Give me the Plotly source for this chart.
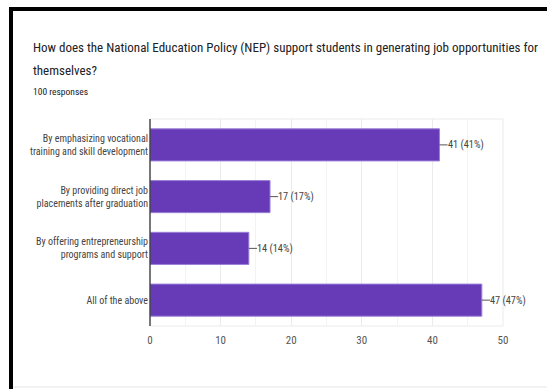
import plotly.graph_objects as go

# Survey data
categories = [
    "By emphasizing vocational<br>training and skill development",
    "By providing direct job<br>placements after graduation",
    "By offering entrepreneurship<br>programs and support",
    "All of the above",
]
counts = [41, 17, 14, 47]
total_responses = 100
x_ticks = [0, 10, 20, 30, 40, 50]

title_line1 = "How does the National Education Policy (NEP) support students in generating job opportunities for"
title_line2 = "themselves?"
subtitle = f"{total_responses} responses"

W, H = 547, 389
M_L, M_R, M_T, M_B = 150, 44, 119, 63
PW, PH = W - M_L - M_R, H - M_T - M_B

FONT = "Liberation Sans Narrow, Roboto Condensed, Roboto, Arial, sans-serif"
BAR = "#673ab7"


def px(x):
    return (x - M_L) / PW


def py(y):
    return (H - M_B - y) / PH


labels = [f"{c} ({round(100 * c / total_responses)}%)" for c in counts]

fig = go.Figure(
    go.Bar(
        y=categories,
        x=counts,
        orientation="h",
        marker=dict(color=BAR, line=dict(color="#9a7fd6", width=1)),
        width=0.62,
        hoverinfo="skip",
    )
)

shapes = []
annotations = []

# Leader ticks and value labels at bar ends
for cat, val, lab in zip(categories, counts, labels):
    shapes.append(dict(type="line", xref="x", yref="y", x0=val, x1=val + 1.15,
                       y0=cat, y1=cat, line=dict(color="#555555", width=1)))
    annotations.append(dict(x=val + 1.15, y=cat, xref="x", yref="y", text=lab,
                            showarrow=False, xanchor="left", yanchor="middle",
                            xshift=-2,
                            font=dict(family=FONT, size=10.3, color="#444444")))

# Light frame around the plotting area
shapes.append(dict(type="rect", xref="paper", yref="paper", x0=0, x1=1, y0=0, y1=1,
                   line=dict(color="#ebebeb", width=1), layer="below"))
# Dark left axis
shapes.append(dict(type="line", xref="paper", yref="paper", x0=0, x1=0, y0=0, y1=1,
                   line=dict(color="#333333", width=1.3)))

# Black card border along top and left edges
shapes.append(dict(type="rect", xref="paper", yref="paper", x0=px(9), x1=px(13),
                   y0=py(H + 2), y1=py(7), fillcolor="#000000", line=dict(width=0)))
shapes.append(dict(type="rect", xref="paper", yref="paper", x0=px(9), x1=px(W + 2),
                   y0=py(11), y1=py(7), fillcolor="#000000", line=dict(width=0)))
shapes.append(dict(type="line", xref="paper", yref="paper", x0=px(13), x1=px(W + 2),
                   y0=py(387), y1=py(387), line=dict(color="#e6e6e6", width=1)))

annotations.append(dict(xref="paper", yref="paper", x=px(30.5), y=py(47.5), text=title_line1,
                        showarrow=False, xanchor="left", yanchor="middle",
                        font=dict(family=FONT, size=13.0, color="#202124")))
annotations.append(dict(xref="paper", yref="paper", x=px(30.5), y=py(70.5), text=title_line2,
                        showarrow=False, xanchor="left", yanchor="middle",
                        font=dict(family=FONT, size=13.0, color="#202124")))
annotations.append(dict(xref="paper", yref="paper", x=px(30.5), y=py(91), text=subtitle,
                        showarrow=False, xanchor="left", yanchor="middle",
                        font=dict(family=FONT, size=9.5, color="#202124")))

fig.update_layout(
    width=W, height=H,
    margin=dict(l=M_L, r=M_R, t=M_T, b=M_B, autoexpand=False),
    paper_bgcolor="white", plot_bgcolor="white",
    showlegend=False,
    bargap=0.38,
    shapes=shapes,
    annotations=annotations,
    font=dict(family=FONT, color="#444444"),
)
fig.update_xaxes(
    range=[0, 50], tickvals=x_ticks, ticktext=[str(t) for t in x_ticks],
    showgrid=True, gridcolor="#ebebeb", gridwidth=1,
    minor=dict(dtick=5, showgrid=True, gridcolor="#f3f3f3"),
    zeroline=False, showline=False, ticks="",
    tickfont=dict(family=FONT, size=11, color="#555555"),
    ticklabelstandoff=6,
)
fig.update_yaxes(
    categoryorder="array", categoryarray=categories[::-1],
    autorange=True, showgrid=False, zeroline=False, showline=False, ticks="",
    tickfont=dict(family=FONT, size=10, color="#444444"),
    ticklabelstandoff=1,
)

fig.write_html("out.html")
